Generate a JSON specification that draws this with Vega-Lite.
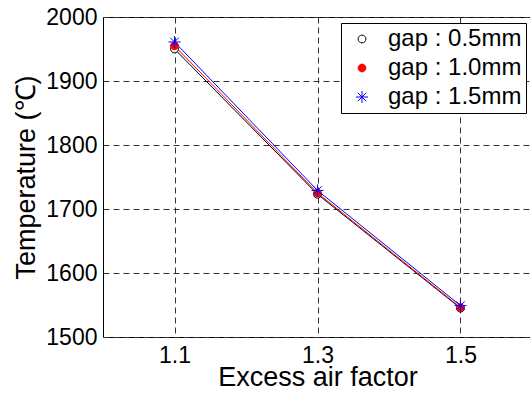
{
  "$schema": "https://vega.github.io/schema/vega-lite/v6.json",
  "autosize": "none",
  "width": 429,
  "height": 320,
  "padding": {"left": 103, "top": 17, "right": 0, "bottom": 56},
  "background": "white",
  "config": {
    "font": "Liberation Sans",
    "view": {"stroke": "#000000", "strokeWidth": 1},
    "axis": {
      "labelFont": "Liberation Sans",
      "titleFont": "Liberation Sans",
      "labelColor": "#000000",
      "titleColor": "#000000",
      "titleFontWeight": "normal",
      "labelFontSize": 23,
      "titleFontSize": 27,
      "domain": false,
      "ticks": false,
      "grid": true,
      "gridColor": "#333333",
      "gridDash": [6, 4],
      "gridWidth": 1,
      "gridOpacity": 1
    },
    "legend": {
      "labelFont": "Liberation Sans",
      "labelFontSize": 24,
      "labelColor": "#000000"
    }
  },
  "data": {
    "values": [
      {"series": "gap : 0.5mm", "x": 1.1, "y": 1950},
      {"series": "gap : 0.5mm", "x": 1.3, "y": 1723},
      {"series": "gap : 0.5mm", "x": 1.5, "y": 1545},
      {"series": "gap : 1.0mm", "x": 1.1, "y": 1955},
      {"series": "gap : 1.0mm", "x": 1.3, "y": 1725},
      {"series": "gap : 1.0mm", "x": 1.5, "y": 1546},
      {"series": "gap : 1.5mm", "x": 1.1, "y": 1961},
      {"series": "gap : 1.5mm", "x": 1.3, "y": 1729},
      {"series": "gap : 1.5mm", "x": 1.5, "y": 1549}
    ]
  },
  "encoding": {
    "x": {
      "field": "x", "type": "quantitative",
      "scale": {"domain": [1.0, 1.6], "nice": false, "zero": false},
      "axis": {"values": [1.1, 1.3, 1.5], "format": ".1f", "title": "Excess air factor", "labelPadding": 7, "titlePadding": -3}
    },
    "y": {
      "field": "y", "type": "quantitative",
      "scale": {"domain": [1500, 2000], "nice": false, "zero": false},
      "axis": {"values": [1500, 1600, 1700, 1800, 1900, 2000], "format": "d", "title": "Temperature (℃)", "labelPadding": 6, "titlePadding": 5}
    },
    "color": {
      "field": "series", "type": "nominal",
      "scale": {"domain": ["gap : 0.5mm", "gap : 1.0mm", "gap : 1.5mm"], "range": ["#000000", "#ff0000", "#0000ff"]},
      "legend": {
        "title": null,
        "orient": "top-right",
        "offset": 6,
        "padding": 4,
        "strokeColor": "#000000",
        "fillColor": "#ffffff",
        "symbolSize": 144,
        "symbolStrokeWidth": 1,
        "symbolOffset": 5,
        "labelOffset": 14,
        "rowPadding": 5
      }
    }
  },
  "layer": [
    {
      "mark": {"type": "line", "strokeWidth": 1},
      "encoding": {
        "order": {"field": "x", "type": "quantitative"}
      }
    },
    {
      "mark": {"type": "point", "size": 144, "strokeWidth": 1, "filled": false, "opacity": 1},
      "encoding": {
        "shape": {
          "field": "series", "type": "nominal", "legend": null,
          "scale": {"domain": ["gap : 0.5mm", "gap : 1.0mm", "gap : 1.5mm"], "range": ["M0.65,0A0.65,0.65 0 1 1 -0.65,0A0.65,0.65 0 1 1 0.65,0Z", "M0.65,0A0.65,0.65 0 1 1 -0.65,0A0.65,0.65 0 1 1 0.65,0Z", "M-1,0L1,0M0,-1L0,1M-0.7,-0.7L0.7,0.7M-0.7,0.7L0.7,-0.7"]}
        },
        "fill": {
          "field": "series", "type": "nominal", "legend": null,
          "scale": {"domain": ["gap : 0.5mm", "gap : 1.0mm", "gap : 1.5mm"], "range": ["#ffffff", "#ff0000", "transparent"]}
        }
      }
    }
  ]
}
